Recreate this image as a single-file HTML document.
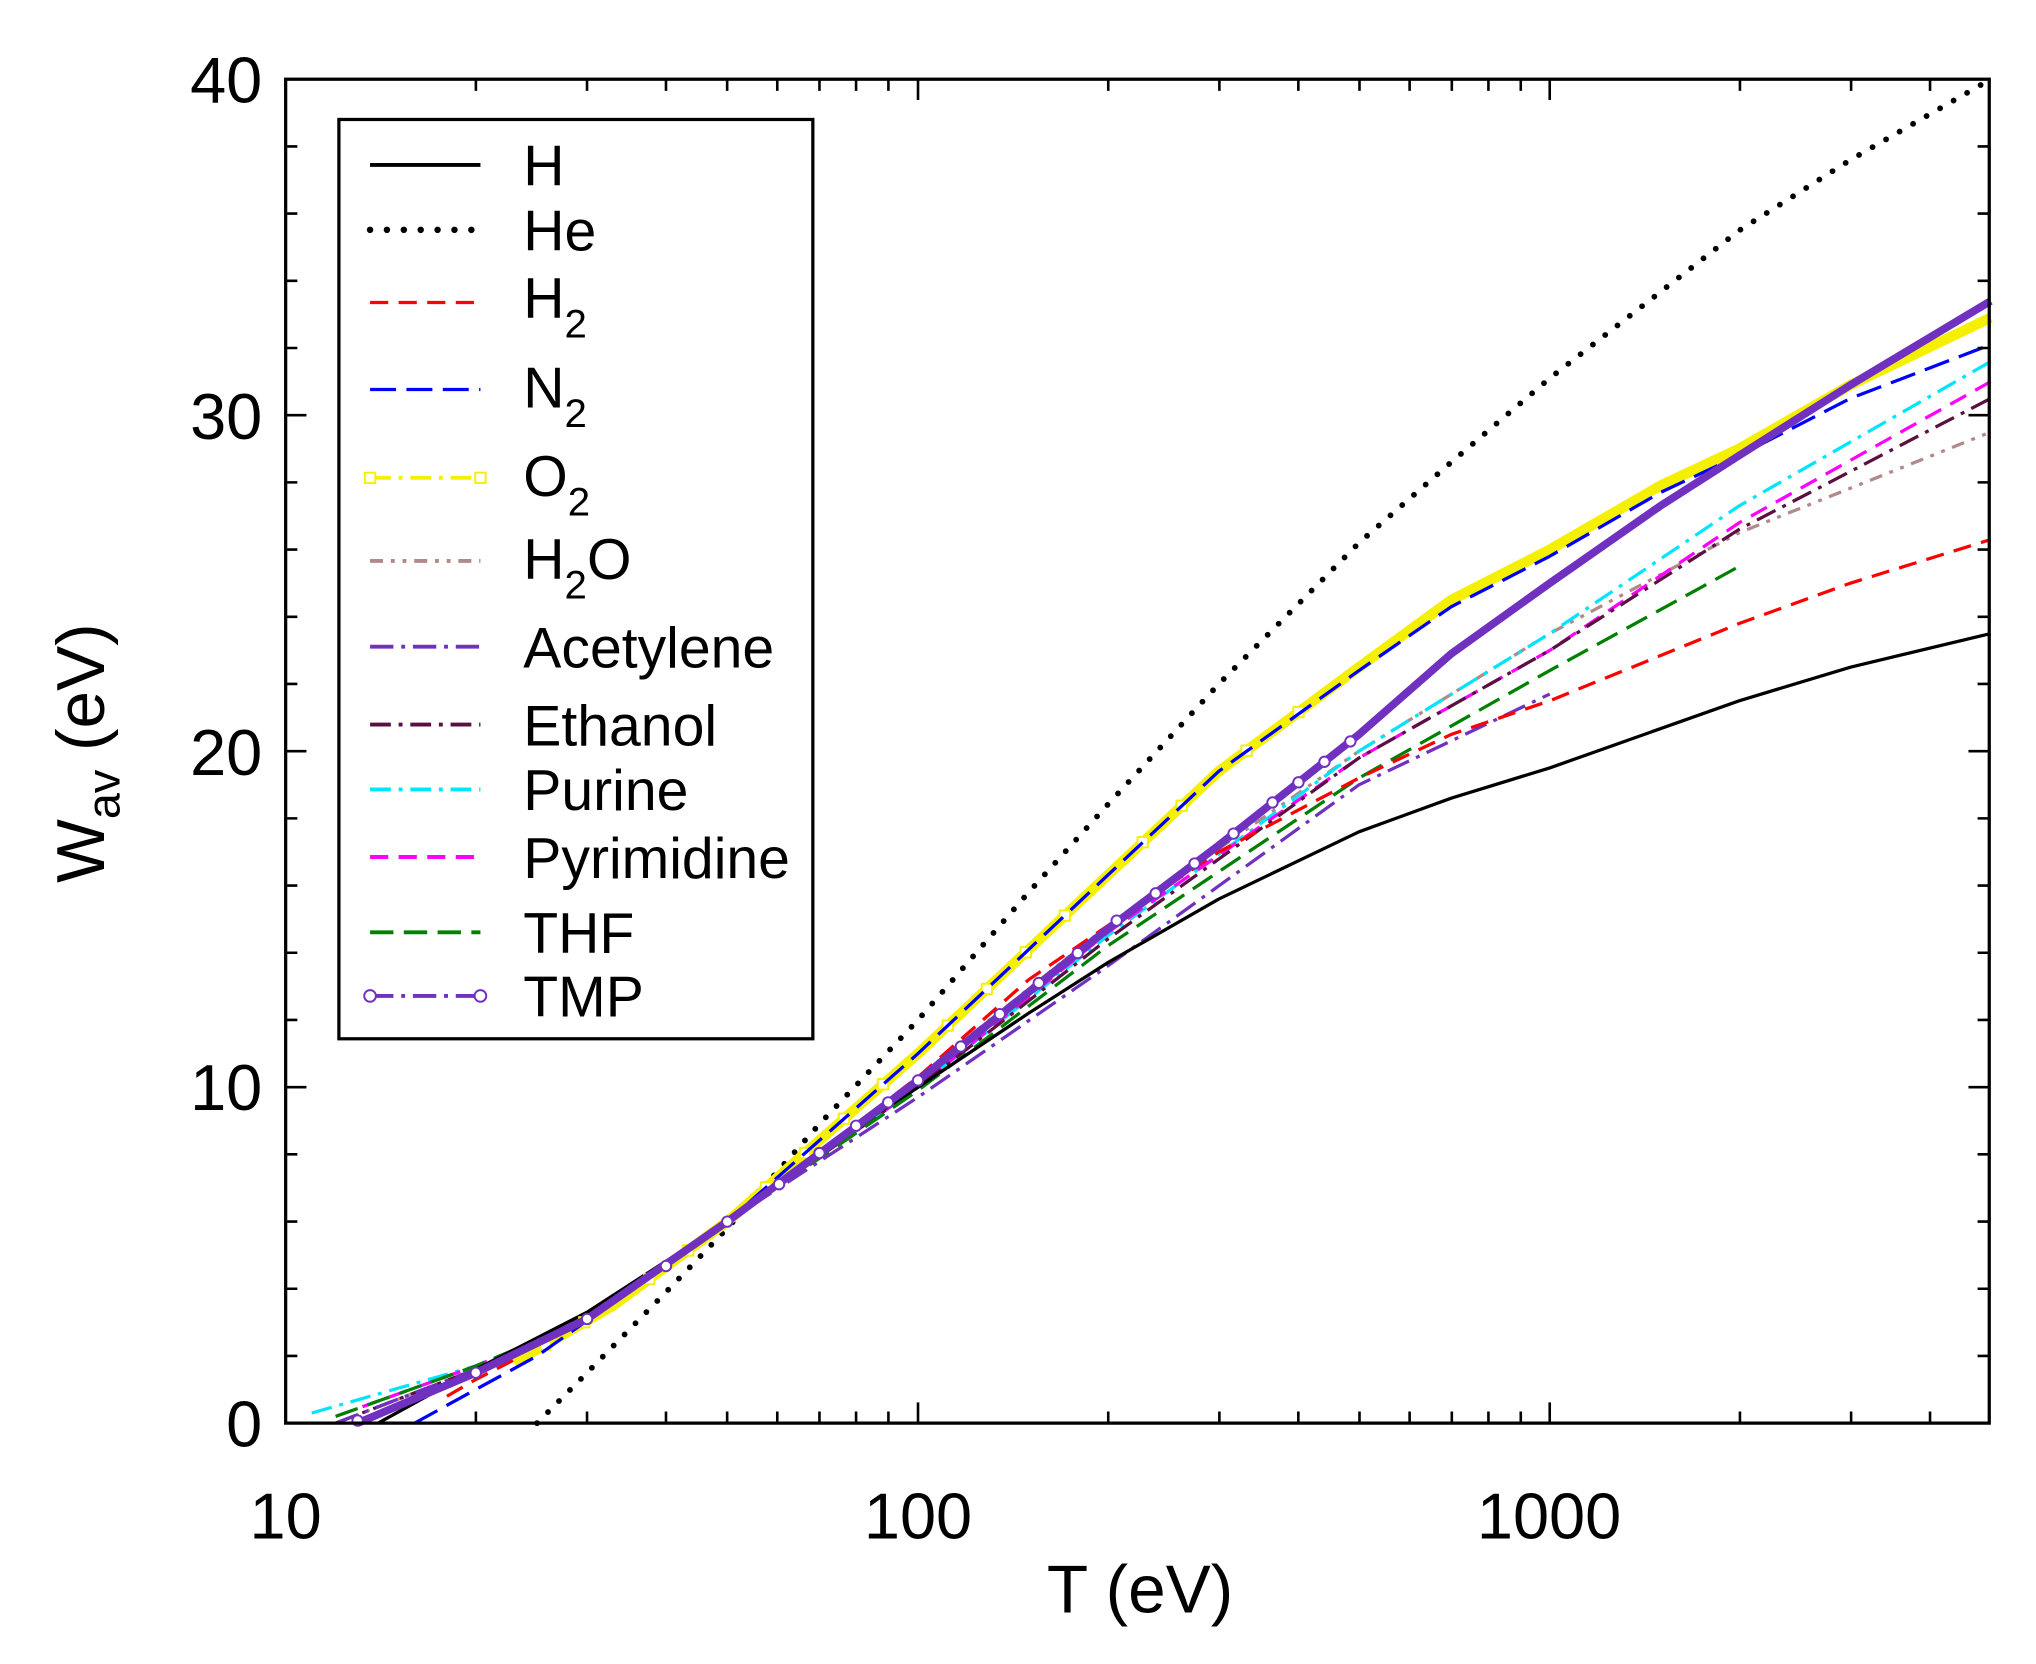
<!DOCTYPE html>
<html><head><meta charset="utf-8"><style>
html,body{margin:0;padding:0;background:#fff;}
svg{display:block;font-family:"Liberation Sans",sans-serif;}
</style></head><body>
<svg width="2036" height="1664" viewBox="0 0 1568 1281.5" xmlns="http://www.w3.org/2000/svg">
<rect x="0" y="0" width="1568" height="1281.5" fill="#fff"/>
<g fill="none" stroke-linejoin="round">
<polyline stroke="#b08a8a" stroke-width="2.5" stroke-dasharray="10,6,3,6,3,6" points="258.5,1096 366.4,1054.6 452.1,1013.2 560.1,940.8 707,829.5 852.9,713.1 1046.6,578.5 1193.5,487.9 1339.4,410.3 1533.1,332.7"/>
<polyline stroke="#00e5ff" stroke-width="2.5" stroke-dasharray="16,6,3,6" points="240.1,1088.2 366.4,1052 452.1,1018.4 560.1,940.8 707,837.3 852.9,720.8 1046.6,578.5 1193.5,487.9 1339.4,389.6 1533.1,278.4"/>
<polyline stroke="#ff00ff" stroke-width="2.5" stroke-dasharray="14,8" points="258.5,1090.8 366.4,1052 452.1,1015.8 560.1,940.8 707,837.3 852.9,718.2 1046.6,583.7 1193.5,500.9 1339.4,402.6 1533.1,293.9"/>
<polyline stroke="#5a1040" stroke-width="2.5" stroke-dasharray="16,6,3,6" points="258.5,1096 366.4,1054.6 452.1,1015.8 560.1,940.8 707,837.3 852.9,723.4 1046.6,583.7 1193.5,500.9 1339.4,407.7 1533.1,306.8"/>
<polyline stroke="#008000" stroke-width="2.5" stroke-dasharray="18,8" points="258.5,1090.8 366.4,1052 452.1,1015.8 560.1,940.8 707,839.8 852.9,728.6 1046.6,599.2 1193.5,516.4 1339.4,436.2"/>
<polyline stroke="#7030c0" stroke-width="2.5" stroke-dasharray="18,6,3,6" points="258.5,1096 366.4,1054.6 452.1,1013.2 560.1,940.8 707,845 852.9,744.1 1046.6,604.4 1193.5,534.5"/>
<polyline stroke="#ff0000" stroke-width="2.5" stroke-dasharray="14,8" points="344.2,1075.3 366.4,1062.4 452.1,1018.4 560.1,940.8 707,829.5 792.2,754.5 852.9,713.1 938.6,656.1 1046.6,599.2 1117.6,565.6 1193.5,539.7 1339.4,480.2 1425.1,449.1 1533.1,415.5"/>
<polyline stroke="#000" stroke-width="2.5" points="291.1,1096 366.4,1054.6 452.1,1010.6 560.1,940.8 631.1,886.4 707,837.3 792.2,780.3 852.9,741.5 938.6,692.4 1046.6,640.6 1117.6,614.7 1193.5,591.4 1339.4,539.7 1425.1,513.8 1533.1,487.9"/>
<polyline stroke="#000" stroke-width="4.5" stroke-dasharray="0,12" stroke-linecap="round" points="413.6,1096 452.1,1057.2 512.9,995.1 560.1,945.9 631.1,865.7 707,785.5 792.2,687.2 852.9,619.9 938.6,526.8 1046.6,418.1 1117.6,356 1193.5,291.3 1339.4,177.5 1425.1,123.1 1533.1,61"/>
<polyline stroke="#f5f000" stroke-width="8" points="396,1049.4 472.3,1005.4 560.1,940.8 707,811.4 852.9,674.2 938.6,594 1046.6,513.8 1117.6,462.1 1193.5,423.3 1278.7,374.1 1339.4,345.6 1425.1,296.5 1533.1,244.7"/>
<g stroke="#f5f000" stroke-width="1.5" fill="#fff">
<rect x="416" y="1031.6" width="8" height="8"/><rect x="446" y="1014.3" width="8" height="8"/><rect x="496" y="981" width="8" height="8"/><rect x="526" y="959" width="8" height="8"/><rect x="586" y="910.4" width="8" height="8"/><rect x="616" y="884" width="8" height="8"/><rect x="646" y="857.5" width="8" height="8"/><rect x="676" y="831" width="8" height="8"/><rect x="726" y="785.8" width="8" height="8"/><rect x="756" y="757.6" width="8" height="8"/><rect x="786" y="729.4" width="8" height="8"/><rect x="816" y="701.2" width="8" height="8"/><rect x="876" y="644.6" width="8" height="8"/><rect x="906" y="616.5" width="8" height="8"/><rect x="956" y="574.1" width="8" height="8"/><rect x="996" y="544.4" width="8" height="8"/>
</g>
<polyline stroke="#0000ff" stroke-width="2.5" stroke-dasharray="20,8" points="319.3,1096 366.4,1070.1 413.6,1044.3 560.1,940.8 707,811.4 852.9,674.2 938.6,594 1046.6,516.4 1117.6,467.3 1193.5,428.4 1278.7,379.3 1339.4,350.8 1425.1,306.8 1533.1,265.4"/>
<polyline stroke="#7030c0" stroke-width="6" points="275.4,1096 366.4,1057.2 452.1,1015.8 560.1,940.8 707,832.1 852.9,715.6 938.6,651 1046.6,565.6 1117.6,503.5 1193.5,449.1 1278.7,389.6 1339.4,350.8 1425.1,296.5 1533.1,231.8"/>
<g stroke="#7030c0" stroke-width="1.5" fill="#fff">
<circle cx="275.4" cy="1094" r="4"/><circle cx="366.4" cy="1057.2" r="4"/><circle cx="452.1" cy="1015.8" r="4"/><circle cx="512.9" cy="975" r="4"/><circle cx="560.1" cy="940.8" r="4"/><circle cx="600" cy="912" r="4"/><circle cx="631.1" cy="888" r="4"/><circle cx="659.3" cy="867" r="4"/><circle cx="684" cy="849" r="4"/><circle cx="707" cy="832.1" r="4"/><circle cx="740" cy="806" r="4"/><circle cx="770" cy="781" r="4"/><circle cx="800" cy="757" r="4"/><circle cx="830" cy="734" r="4"/><circle cx="860" cy="709" r="4"/><circle cx="890" cy="688" r="4"/><circle cx="920" cy="665" r="4"/><circle cx="950" cy="642" r="4"/><circle cx="980" cy="618" r="4"/><circle cx="1000" cy="602.5" r="4"/><circle cx="1020" cy="586.7" r="4"/><circle cx="1040" cy="571" r="4"/>
</g>
</g>
<path stroke="#000" stroke-width="2" fill="none" d="
M220,1096v-16M366.5,1096v-9M452.1,1096v-9M512.9,1096v-9M560,1096v-9M598.6,1096v-9M631.1,1096v-9M659.3,1096v-9M684.2,1096v-9M707,1096v-16M853.5,1096v-9M939.1,1096v-9M999.9,1096v-9M1047,1096v-9M1085.6,1096v-9M1118.1,1096v-9M1146.3,1096v-9M1171.2,1096v-9M1193.5,1096v-16M1340,1096v-9M1425.6,1096v-9M1486.4,1096v-9
M220,61v16M366.5,61v9M452.1,61v9M512.9,61v9M560,61v9M598.6,61v9M631.1,61v9M659.3,61v9M684.2,61v9M707,61v16M853.5,61v9M939.1,61v9M999.9,61v9M1047,61v9M1085.6,61v9M1118.1,61v9M1146.3,61v9M1171.2,61v9M1193.5,61v16M1340,61v9M1425.6,61v9M1486.4,61v9
M220,1044.25h9M220,992.5h9M220,940.75h9M220,889h9M220,837.25h16M220,785.5h9M220,733.75h9M220,682h9M220,630.25h9M220,578.5h16M220,526.75h9M220,475h9M220,423.25h9M220,371.5h9M220,319.75h16M220,268h9M220,216.25h9M220,164.5h9M220,112.75h9
M1532,1044.25h-9M1532,992.5h-9M1532,940.75h-9M1532,889h-9M1532,837.25h-16M1532,785.5h-9M1532,733.75h-9M1532,682h-9M1532,630.25h-9M1532,578.5h-16M1532,526.75h-9M1532,475h-9M1532,423.25h-9M1532,371.5h-9M1532,319.75h-16M1532,268h-9M1532,216.25h-9M1532,164.5h-9M1532,112.75h-9"/>
<rect x="220" y="61" width="1312" height="1035" fill="none" stroke="#000" stroke-width="2.5"/>
<g font-size="50" fill="#000">
<text x="202" y="1114" text-anchor="end">0</text>
<text x="202" y="855" text-anchor="end">10</text>
<text x="202" y="597" text-anchor="end">20</text>
<text x="202" y="338" text-anchor="end">30</text>
<text x="202" y="79" text-anchor="end">40</text>
<text x="220" y="1185" text-anchor="middle">10</text>
<text x="707" y="1185" text-anchor="middle">100</text>
<text x="1193" y="1185" text-anchor="middle">1000</text>
<text x="878" y="1242" text-anchor="middle" font-size="52">T (eV)</text>
<text transform="translate(80,580) rotate(-90)" text-anchor="middle" font-size="52">W<tspan font-size="36" dy="12">av</tspan><tspan dy="-12"> (eV)</tspan></text>
</g>
<rect x="261" y="92" width="365" height="708" fill="#fff" stroke="#000" stroke-width="2.5"/>
<g fill="none">
<line x1="285" y1="127" x2="370" y2="127" stroke="#000" stroke-width="3"/>
<line x1="285" y1="177" x2="370" y2="177" stroke="#000" stroke-width="5" stroke-dasharray="0,13" stroke-linecap="round"/>
<line x1="285" y1="233" x2="370" y2="233" stroke="#ff0000" stroke-width="2.5" stroke-dasharray="14,8"/>
<line x1="285" y1="300" x2="370" y2="300" stroke="#0000ff" stroke-width="2.5" stroke-dasharray="20,8"/>
<line x1="285" y1="368" x2="370" y2="368" stroke="#f5f000" stroke-width="3" stroke-dasharray="16,6,3,6"/>
<rect x="281" y="364" width="8" height="8" fill="#fff" stroke="#f5f000" stroke-width="1.5"/>
<rect x="366" y="364" width="8" height="8" fill="#fff" stroke="#f5f000" stroke-width="1.5"/>
<line x1="285" y1="432" x2="370" y2="432" stroke="#b08a8a" stroke-width="3" stroke-dasharray="10,6,3,6,3,6"/>
<line x1="285" y1="498" x2="370" y2="498" stroke="#7030c0" stroke-width="3" stroke-dasharray="18,6,3,6"/>
<line x1="285" y1="558" x2="370" y2="558" stroke="#5a1040" stroke-width="3" stroke-dasharray="16,6,3,6"/>
<line x1="285" y1="608" x2="370" y2="608" stroke="#00e5ff" stroke-width="3" stroke-dasharray="16,6,3,6"/>
<line x1="285" y1="660" x2="370" y2="660" stroke="#ff00ff" stroke-width="3" stroke-dasharray="14,8"/>
<line x1="285" y1="718" x2="370" y2="718" stroke="#008000" stroke-width="3" stroke-dasharray="18,8"/>
<line x1="285" y1="767" x2="370" y2="767" stroke="#7030c0" stroke-width="3" stroke-dasharray="18,6,3,6"/>
<circle cx="285" cy="767" r="4.5" fill="#fff" stroke="#7030c0" stroke-width="1.5"/>
<circle cx="370" cy="767" r="4.5" fill="#fff" stroke="#7030c0" stroke-width="1.5"/>
</g>
<g font-size="44" fill="#000">
<text x="403" y="143">H</text>
<text x="403" y="193">He</text>
<text x="403" y="245">H<tspan font-size="31" dy="15">2</tspan></text>
<text x="403" y="314">N<tspan font-size="31" dy="15">2</tspan></text>
<text x="403" y="382">O<tspan font-size="31" dy="15">2</tspan></text>
<text x="403" y="446">H<tspan font-size="31" dy="15">2</tspan><tspan dy="-15">O</tspan></text>
<text x="403" y="514">Acetylene</text>
<text x="403" y="574">Ethanol</text>
<text x="403" y="624">Purine</text>
<text x="403" y="676">Pyrimidine</text>
<text x="403" y="734">THF</text>
<text x="403" y="783">TMP</text>
</g>
</svg>
</body></html>
